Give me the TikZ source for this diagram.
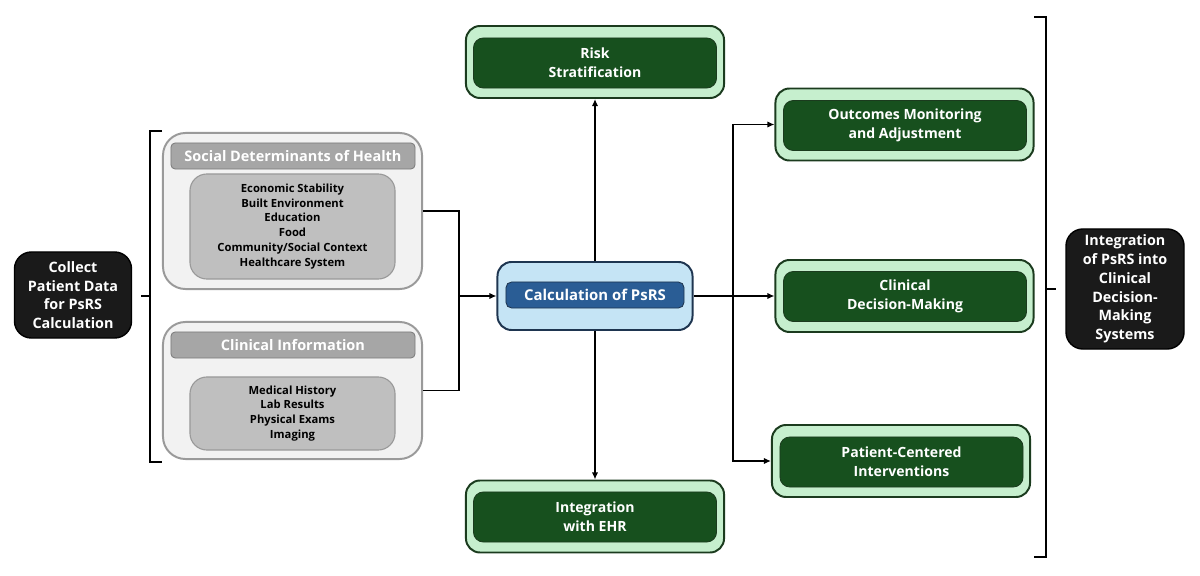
\documentclass[tikz,border=0pt]{standalone}
\usepackage{fontspec}
\setmainfont{Open Sans}
\usetikzlibrary{arrows.meta,positioning,calc}
\definecolor{boxblack}{HTML}{1A1A1A}
\definecolor{grayback}{HTML}{F2F2F2}
\definecolor{grayline}{HTML}{9A9A9A}
\definecolor{grayhead}{HTML}{A6A6A6}
\definecolor{graylist}{HTML}{BFBFBF}
\definecolor{calcback}{HTML}{C5E4F5}
\definecolor{calcline}{HTML}{1E3550}
\definecolor{calcbar}{HTML}{2A5D95}
\definecolor{greenback}{HTML}{C6EFCE}
\definecolor{greenline}{HTML}{1B3B1E}
\definecolor{greenbar}{HTML}{17501E}
\tikzset{
    darkbox/.style={draw=black, line width=1pt, fill=boxblack, rounded corners=12pt,
        text=white, font=\fontsize{10.2}{13.3}\selectfont\bfseries, align=center, inner sep=2pt},
    groupbox/.style={draw=grayline, line width=1.4pt, fill=grayback, rounded corners=16pt},
    headbar/.style={draw=grayline!80!black, line width=0.6pt, fill=grayhead, rounded corners=3pt,
        minimum width=6.1cm, minimum height=0.65cm, text=white,
        font=\fontsize{10.3}{11}\selectfont\bfseries},
    listbox/.style={draw=grayline, line width=0.8pt, fill=graylist, rounded corners=12pt,
        minimum width=5.125cm, align=center, font=\fontsize{8}{10.6}\selectfont\bfseries},
    calcbox/.style={draw=calcline, line width=1.4pt, fill=calcback, rounded corners=10pt,
        minimum width=4.875cm, minimum height=1.7cm},
    calcinner/.style={draw=calcline, line width=0.6pt, fill=calcbar, rounded corners=4pt,
        minimum width=4.45cm, minimum height=0.65cm, text=white,
        font=\fontsize{10.6}{11}\selectfont\bfseries},
    stagebox/.style={draw=greenline, line width=1.4pt, fill=greenback, rounded corners=10pt,
        minimum width=6.45cm, minimum height=1.8cm},
    stageinner/.style={draw=greenline, line width=0.6pt, fill=greenbar, rounded corners=7pt,
        minimum width=6.075cm, minimum height=1.25cm, text=white, align=center,
        font=\fontsize{10}{13.5}\selectfont\bfseries},
    link/.style={line width=1.4pt, draw=black},
    arrow/.style={link, -{Latex[length=5pt,width=4.5pt]}}
}
\begin{document}
\begin{tikzpicture}[x=0.025cm, y=-0.025cm]
    \useasboundingbox (0,0) rectangle (1200,576);
    % Input side
    \node[darkbox, minimum width=2.925cm, minimum height=2.15cm] (collect) at (73,295)
        {Collect\\Patient Data\\for PsRS\\Calculation};
    \node[groupbox, minimum width=6.475cm, minimum height=3.9cm] (sdoh) at (292.5,211) {};
    \node[headbar] (sdohhead) at (293,156) {Social Determinants of Health};
    \node[listbox, minimum height=2.625cm] (sdohlist) at (292.5,226.5)
        {Economic Stability\\Built Environment\\Education\\Food\\Community/Social Context\\Healthcare System};
    \node[groupbox, minimum width=6.475cm, minimum height=3.425cm] (clin) at (292.5,390.5) {};
    \node[headbar] (clinhead) at (293,345) {Clinical Information};
    \node[listbox, minimum height=1.825cm] (clinlist) at (292.5,413.5)
        {Medical History\\Lab Results\\Physical Exams\\Imaging};
    % Left bracket
    \coordinate (lbtop) at (162,131);
    \coordinate (lbbot) at (162,462);
    \coordinate (lbmid) at (150,296);
    \draw[link] (lbtop) -- (150,131) -- (150,462) -- (lbbot);
    \draw[link] (141,296) -- (lbmid);
    % Calculation
    \node[calcbox] (calc) at (595,296) {};
    \node[calcinner] (calcbar) at (595,295) {Calculation of PsRS};
    \coordinate (join) at (459,296);
    \draw[link] (sdoh.east) -| (join) |- (clin.east);
    \draw[arrow] (join) -- (calc.west);
    % Top and bottom stages
    \node[stagebox] (risk) at (595,62) {};
    \node[stageinner] (riskin) at (595,63) {Risk\\Stratification};
    \node[stagebox] (ehr) at (595,516.5) {};
    \node[stageinner] (ehrin) at (595,517) {Integration\\with EHR};
    \draw[arrow] (calc.north) -- (risk.south);
    \draw[arrow] (calc.south) -- (ehr.north);
    % Right stages
    \node[stagebox] (outc) at (904.5,124.5) {};
    \node[stageinner] (outcin) at (905,125.5) {Outcomes Monitoring\\and Adjustment};
    \node[stagebox] (decide) at (904.5,296) {};
    \node[stageinner] (decidein) at (905,296.5) {Clinical\\Decision-Making};
    \node[stagebox] (patient) at (901,461) {};
    \node[stageinner] (patientin) at (901.5,462) {Patient-Centered\\Interventions};
    \coordinate (split) at (733,296);
    \draw[link] (calc.east) -- (split);
    \draw[arrow] (split) |- (outc.west);
    \draw[arrow] (split) -- (decide.west);
    \draw[arrow] (split) |- (patient.west);
    % Right bracket
    \coordinate (rbtop) at (1034,17);
    \coordinate (rbbot) at (1034,557);
    \coordinate (rbmid) at (1046,289);
    \draw[link] (rbtop) -- (1046,17) -- (1046,557) -- (rbbot);
    \node[darkbox, minimum width=2.95cm, minimum height=3cm] (system) at (1125,289)
        {Integration\\of PsRS into\\Clinical\\Decision-\\Making\\Systems};
    \draw[link] (rbmid) -- (1056,289);
\end{tikzpicture}
\end{document}
